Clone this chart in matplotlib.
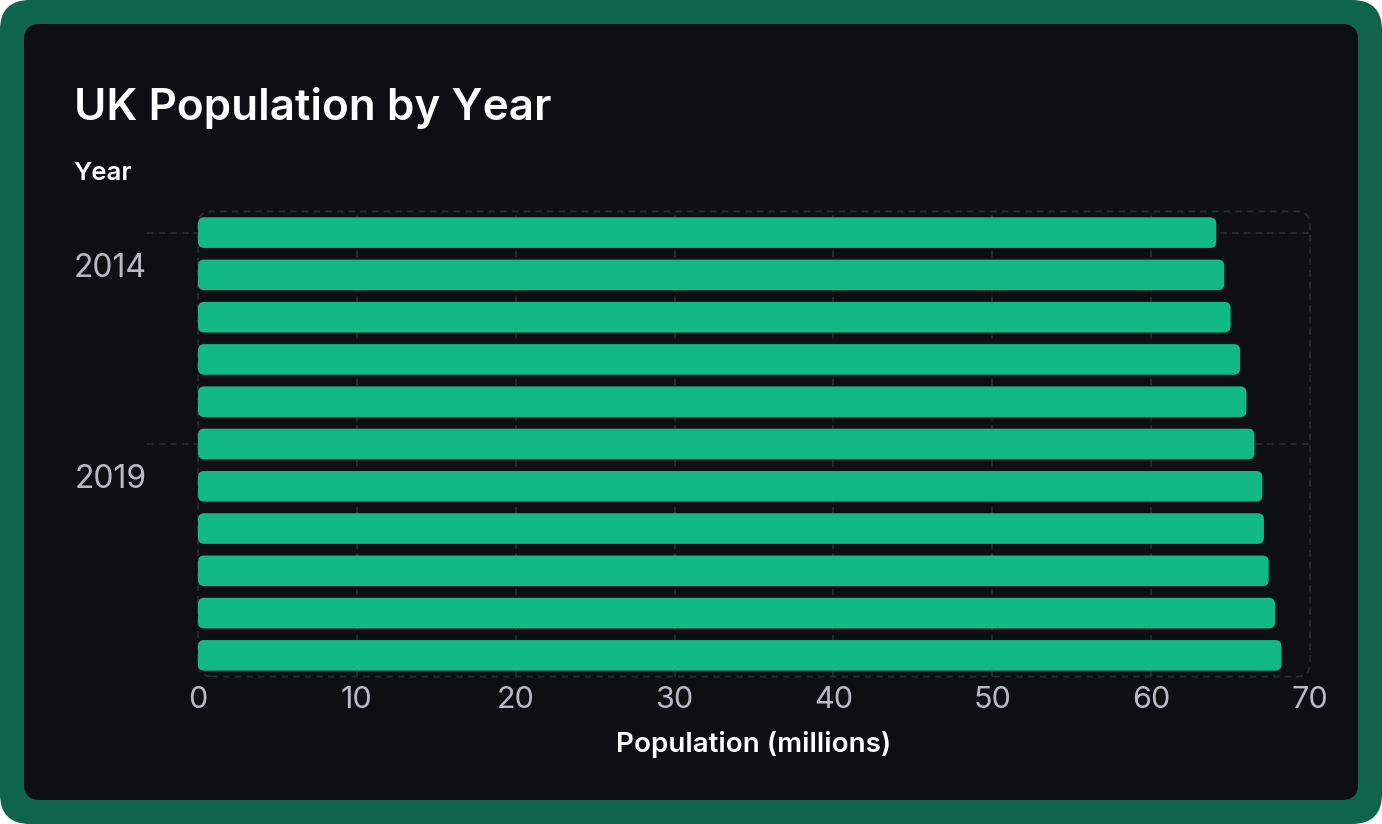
import matplotlib
matplotlib.use("Agg")
import matplotlib.pyplot as plt
from matplotlib.patches import FancyBboxPatch
from matplotlib.lines import Line2D
import matplotlib.transforms as mtransforms

years = [2014, 2015, 2016, 2017, 2018, 2019, 2020, 2021, 2022, 2023, 2024]
population = [64.1, 64.6, 65.0, 65.6, 66.0, 66.5, 67.0, 67.1, 67.4, 67.8, 68.2]
shown_years = [2014, 2019]
x_ticks = [0, 10, 20, 30, 40, 50, 60, 70]

title = "UK Population by Year"
y_label = "Year"
x_label = "Population (millions)"

BG = "#0e0f13"
BORDER = "#0f644c"
BAR = "#12b985"
GRID = "#2c2e35"
TICK = "#b9b9c6"
WHITE = "#ffffff"

plt.rcParams['font.family'] = ['Inter', 'DejaVu Sans']

W, H = 1382, 824
fig = plt.figure(figsize=(W / 100, H / 100), dpi=100)
fig.patch.set_facecolor("white")

outer = FancyBboxPatch((0, 0), W, H, boxstyle="round,pad=0,rounding_size=30",
                       transform=None, facecolor=BORDER, edgecolor="none", zorder=-10)
fig.patches.append(outer)
inner = FancyBboxPatch((24, 24), W - 48, H - 48, boxstyle="round,pad=0,rounding_size=16",
                       transform=None, facecolor=BG, edgecolor="none", zorder=-9)
fig.patches.append(inner)

left_px, right_px, top_px, bottom_px = 198, 1310, 211.5, 676.5
ax_w = right_px - left_px
ax_h = bottom_px - top_px
ax = fig.add_axes([left_px / W, 1 - bottom_px / H, ax_w / W, ax_h / H])
ax.set_facecolor("none")

n = len(years)
ypos = list(range(n))
bar_h = 0.725
rx = 0.40
ry_ratio = (6.0 / (ax_h / n)) / rx
for i, v in zip(ypos, population):
    p = FancyBboxPatch((0, i - bar_h / 2), v, bar_h,
                       boxstyle=f"round,pad=0,rounding_size={rx}",
                       mutation_aspect=ry_ratio,
                       facecolor=BAR, edgecolor="none", zorder=3)
    ax.add_patch(p)

ax.set_xlim(0, 70)
ax.set_ylim(n - 0.5, -0.5)

for s in ax.spines.values():
    s.set_visible(False)

frame = FancyBboxPatch((0, 0), 1, 1, boxstyle="round,pad=0,rounding_size=0.012",
                       mutation_aspect=(ax_w / ax_h),
                       transform=ax.transAxes, facecolor="none", edgecolor=GRID,
                       linewidth=1.2, linestyle=(0, (4, 3)), zorder=1, clip_on=False)
ax.add_patch(frame)

ax.set_xticks(x_ticks)
ax.set_xticklabels([str(t) for t in x_ticks])
ax.tick_params(axis="x", length=0, pad=7, labelsize=22, labelcolor=TICK)
for t in x_ticks[1:-1]:
    ax.axvline(t, color=GRID, lw=1.2, ls=(0, (4, 3)), zorder=1)

ytick_pos = [years.index(y) for y in shown_years]
ax.set_yticks(ytick_pos)
ax.set_yticklabels([str(y) for y in shown_years])
ax.tick_params(axis="y", length=0, pad=37, labelsize=23, labelcolor=TICK)
offset = mtransforms.ScaledTranslation(0, -32 / 100, fig.dpi_scale_trans)
for lab in ax.get_yticklabels():
    lab.set_transform(lab.get_transform() + offset)

trans = mtransforms.blended_transform_factory(ax.transAxes, ax.transData)
for yp in ytick_pos:
    ax.add_line(Line2D([-51 / ax_w, 1], [yp, yp], transform=trans, color=GRID,
                       lw=1.2, ls=(0, (4, 3)), zorder=1, clip_on=False))

ax.set_xlabel(x_label, fontsize=20, fontweight="semibold", color=WHITE, labelpad=12)

fig.text(74 / W, 1 - 108 / H, title, fontsize=31.7, fontweight="semibold", color=WHITE,
         ha="left", va="center")
fig.text(73 / W, 1 - 174 / H, y_label, fontsize=18.5, fontweight="semibold", color=WHITE,
         ha="left", va="center")

fig.savefig("out.png", dpi=100, facecolor=fig.get_facecolor())
